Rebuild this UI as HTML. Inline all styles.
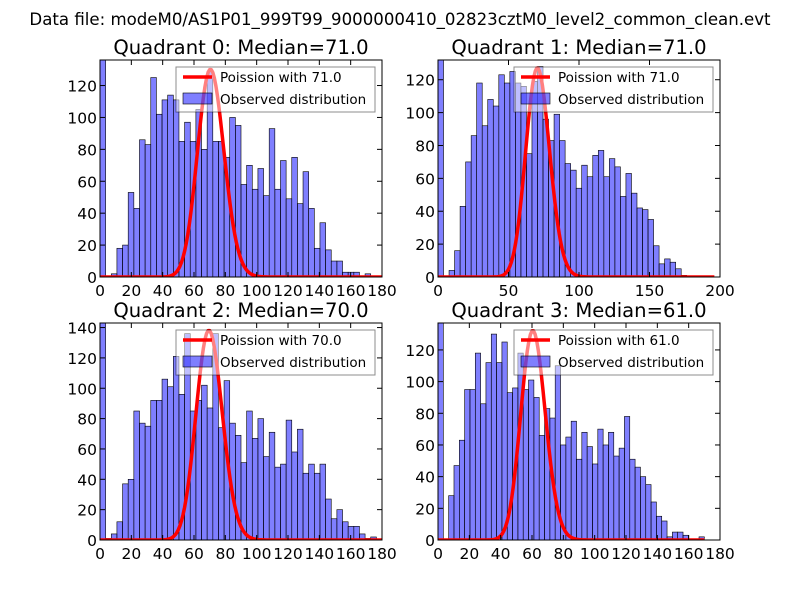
<!DOCTYPE html>
<html><head><meta charset="utf-8"><style>
html,body{margin:0;padding:0;background:#fff;}
svg text{font-family:"DejaVu Sans","Liberation Sans",sans-serif;}
</style></head><body>
<svg id="fig" width="800" height="600" viewBox="0 0 800 600" xmlns="http://www.w3.org/2000/svg">
<rect width="800" height="600" fill="#fff"/>
<text x="400" y="25" text-anchor="middle" font-size="16.6">Data file: modeM0/AS1P01_999T99_9000000410_02823cztM0_level2_common_clean.evt</text>
</svg>
<script>
const counts0 = [136,0,2,18,20,53,43,86,83,125,102,111,114,111,85,97,85,105,80,129,85,85,75,100,95,58,70,55,68,51,93,55,73,49,75,46,66,43,18,34,17,10,10,3,3,3,0,2,0,0];
const counts1 = [135,0,4,16,43,70,86,118,92,108,104,123,118,125,118,116,75,119,128,96,83,99,83,69,65,54,68,61,74,77,61,72,67,49,63,51,42,41,35,19,8,11,9,5,1,0,0,0,0,0];
const counts2 = [143,1,4,12,37,40,85,77,75,92,92,106,101,121,96,136,85,92,102,87,136,74,105,77,69,51,85,67,80,55,71,48,50,79,58,73,44,50,44,50,27,14,20,12,9,9,4,1,2,0];
const counts3 = [137,0,28,47,63,95,95,118,86,112,130,112,125,93,96,118,95,101,90,66,83,77,110,60,65,75,51,68,59,48,70,60,68,53,58,78,51,46,40,35,24,15,12,2,5,5,3,0,0,2];
const binWidths = [3.6, 3.92, 3.6, 3.4];
const medians = [71.0, 71.0, 70.0, 61.0];
const poissonPeaks = [130, 127, 138, 132];
const xTicks0 = [0,20,40,60,80,100,120,140,160,180];
const xTicks1 = [0,50,100,150,200];
const yTicks0 = [0,20,40,60,80,100,120];
const yTicks2 = [0,20,40,60,80,100,120,140];
const xMaxes = [180, 200, 180, 180];
const yMaxes = [136, 132, 143, 137];

const NS = "http://www.w3.org/2000/svg";
const svg = document.getElementById('fig');
function mk(tag, attrs, parent){const e=document.createElementNS(NS,tag);for(const k in attrs)e.setAttribute(k,attrs[k]);(parent||svg).appendChild(e);return e;}
function lgamma(n){let s=0;for(let i=2;i<=n;i++)s+=Math.log(i);return s;}

const boxes = [[100,60,282,217],[438,60,282,217],[100,323,282,217],[438,323,282,217]];
const allCounts = [counts0,counts1,counts2,counts3];
const allX = [xTicks0,xTicks1,xTicks0,xTicks0];
const allY = [yTicks0,yTicks0,yTicks2,yTicks0];

for(let q=0;q<4;q++){
  const [L,T,W,H]=boxes[q];
  const xs=v=>L+v/xMaxes[q]*W;
  const ys=v=>T+H-v/yMaxes[q]*H;
  const g=mk('g',{});
  
  
  const clipId='clip'+q;
  const cp=mk('clipPath',{id:clipId},g);mk('rect',{x:L,y:T,width:W,height:H},cp);
  const t=mk('text',{x:L+W/2,y:T-6,'text-anchor':'middle','font-size':19.6},g);
  t.textContent='Quadrant '+q+': Median='+medians[q].toFixed(1);
  
  
  const plot=mk('g',{'clip-path':'url(#'+clipId+')'},g);
  const c=allCounts[q],bw=binWidths[q];
  for(let i=0;i<c.length;i++){
    if(c[i]<=0)continue;
    const x0=xs(i*bw),x1=xs((i+1)*bw),y=ys(c[i]);
    const r=mk('rect',{x:x0,y:y,width:x1-x0,height:ys(0)-y,fill:'rgba(0,0,255,0.5)',stroke:'#000','stroke-width':0.6},plot);
    
    
  }
  const mu=medians[q],peak=poissonPeaks[q];
  const pmfPeak=Math.exp(Math.floor(mu)*Math.log(mu)-mu-lgamma(Math.floor(mu)));
  let d='';
  const kmax=Math.round(c.length*bw);
  for(let k=0;k<=kmax;k++){
    const p=Math.exp(k*Math.log(mu)-mu-lgamma(k))/pmfPeak*peak;
    d+=(k?'L':'M')+xs(k).toFixed(2)+','+ys(p).toFixed(2);
  }
  const pl=mk('path',{d:d,fill:'none',stroke:'#ff0000','stroke-width':3.5,'stroke-linejoin':'round'},plot);
  
  
  const fr=mk('rect',{x:L,y:T,width:W,height:H,fill:'none',stroke:'#000','stroke-width':1},g);
  
  
  for(const v of allX[q]){
    const x=xs(v);
    mk('line',{x1:x,y1:T+H,x2:x,y2:T+H-5,stroke:'#000'},g);
    mk('line',{x1:x,y1:T,x2:x,y2:T+5,stroke:'#000'},g);
    const tl=mk('text',{x:x,y:T+H+19,'text-anchor':'middle','font-size':15.5},g);
    tl.textContent=v;
    
    
  }
  for(const v of allY[q]){
    const y=ys(v);
    mk('line',{x1:L,y1:y,x2:L+5,y2:y,stroke:'#000'},g);
    mk('line',{x1:L+W,y1:y,x2:L+W-5,y2:y,stroke:'#000'},g);
    const tl=mk('text',{x:L-3,y:y+6,'text-anchor':'end','font-size':15.5},g);
    tl.textContent=v;
    
    
  }
  const lg=mk('g',{},g);
  
  
  const lx=L+76,ly=T+7;
  mk('rect',{x:lx,y:ly,width:199,height:45,fill:'rgba(255,255,255,0.5)',stroke:'rgba(0,0,0,0.45)','stroke-width':1},lg);
  mk('line',{x1:lx+7,y1:ly+10,x2:lx+36,y2:ly+10,stroke:'#ff0000','stroke-width':3.5},lg);
  const t1=mk('text',{x:lx+44,y:ly+15,'font-size':13.5},lg);
  t1.textContent='Poission with '+medians[q].toFixed(1);
  
  
  mk('rect',{x:lx+7,y:ly+26,width:29,height:11,fill:'rgba(0,0,255,0.5)',stroke:'#000','stroke-width':0.6},lg);
  const t2=mk('text',{x:lx+44,y:ly+37,'font-size':13.5},lg);
  t2.textContent='Observed distribution';
  
  
}
</script>
</body></html>
